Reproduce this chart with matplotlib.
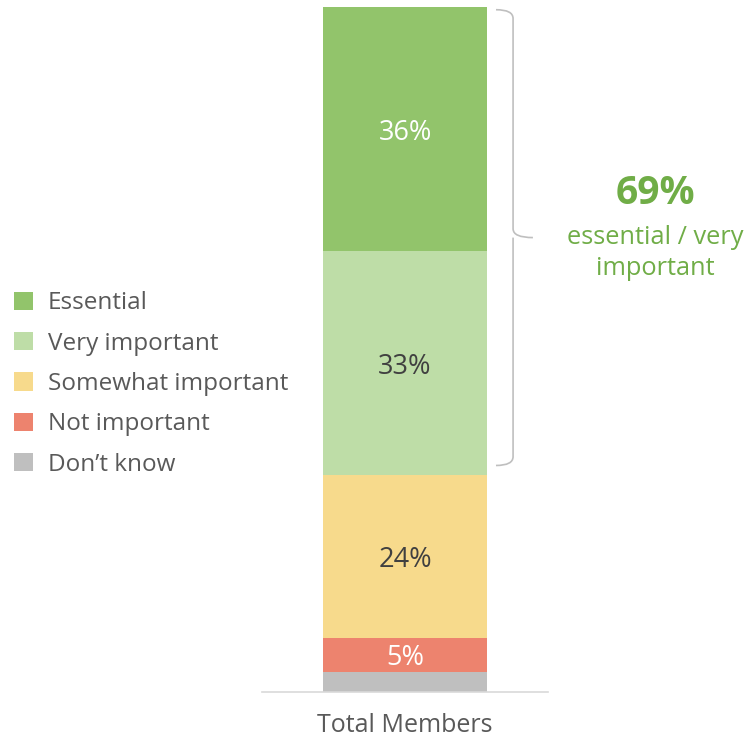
import matplotlib
matplotlib.use("Agg")
import matplotlib.pyplot as plt
from matplotlib.patches import Patch, PathPatch
from matplotlib.path import Path

plt.rcParams["font.family"] = ["Open Sans", "DejaVu Sans"]

# Survey shares, stacked bottom to top
categories = ["Don\u2019t know", "Not important", "Somewhat important",
              "Very important", "Essential"]
values = [3, 5, 24, 33, 36]
colors = ["#BFBFBF", "#ED836E", "#F7DA8C", "#BEDDA7", "#92C46B"]
label_colors = [None, "white", "#404040", "#404040", "white"]
group_label = "Total Members"
combined = values[3] + values[4]

fig = plt.figure(figsize=(7.49, 7.38), dpi=100)
ax = fig.add_axes([262 / 749, 46 / 738, 286 / 749, 685 / 738])

bottom = 0
for cat, val, col, lc in zip(categories, values, colors, label_colors):
    ax.bar(0, val, width=1.0, bottom=bottom, color=col, label=cat)
    if lc is not None:
        ax.text(0, bottom + val / 2, f"{val}%", ha="center",
                va="center_baseline", fontsize=19.5, color=lc)
    bottom += val

ax.set_xlim(-0.872, 0.872)
ax.set_ylim(0, bottom)
for side in ["top", "left", "right"]:
    ax.spines[side].set_visible(False)
ax.spines["bottom"].set_color("#D9D9D9")
ax.spines["bottom"].set_linewidth(1.2)
ax.set_yticks([])
ax.set_xticks([0])
ax.set_xticklabels([group_label], fontsize=18, color="#595959")
ax.tick_params(axis="x", length=0, pad=15)

# Curly brace spanning the two "important" segments
ytop = bottom - 0.4
ybot = bottom - combined + 1.4
ymid = (ytop + ybot) / 2
x0, x1, x2 = 0.555, 0.659, 0.78
r = 1.3
verts = [(x0, ytop), (x1, ytop), (x1, ytop - r),
         (x1, ymid + r), (x1, ymid), (x2, ymid),
         (x1, ymid), (x1, ymid - r),
         (x1, ybot + r), (x1, ybot), (x0, ybot)]
codes = [Path.MOVETO, Path.CURVE3, Path.CURVE3,
         Path.LINETO, Path.CURVE3, Path.CURVE3,
         Path.MOVETO, Path.CURVE3,
         Path.LINETO, Path.CURVE3, Path.CURVE3]
brace = PathPatch(Path(verts, codes), facecolor="none", edgecolor="#BFBFBF",
                  lw=1.2, clip_on=False)
ax.add_patch(brace)

fig.text(655 / 749, 1 - 193 / 738, f"{combined}%", ha="center", va="center",
         fontsize=28, fontweight="bold", color="#70AD47")
fig.text(655 / 749, 1 - 253 / 738, "essential / very\nimportant", ha="center",
         va="center", fontsize=18.3, color="#70AD47", linespacing=1.32)

handles = [Patch(facecolor=c, label=l) for c, l in zip(colors, categories)]
handles = handles[::-1]
fig.legend(handles=handles, loc="center left",
           bbox_to_anchor=(14 / 749, 1 - 384 / 738), frameon=False,
           fontsize=17.5, handlelength=0.78, handleheight=0.78,
           handletextpad=0.62, labelspacing=0.67, borderpad=0,
           borderaxespad=0, labelcolor="#595959")

fig.savefig("out.png", dpi=100)
